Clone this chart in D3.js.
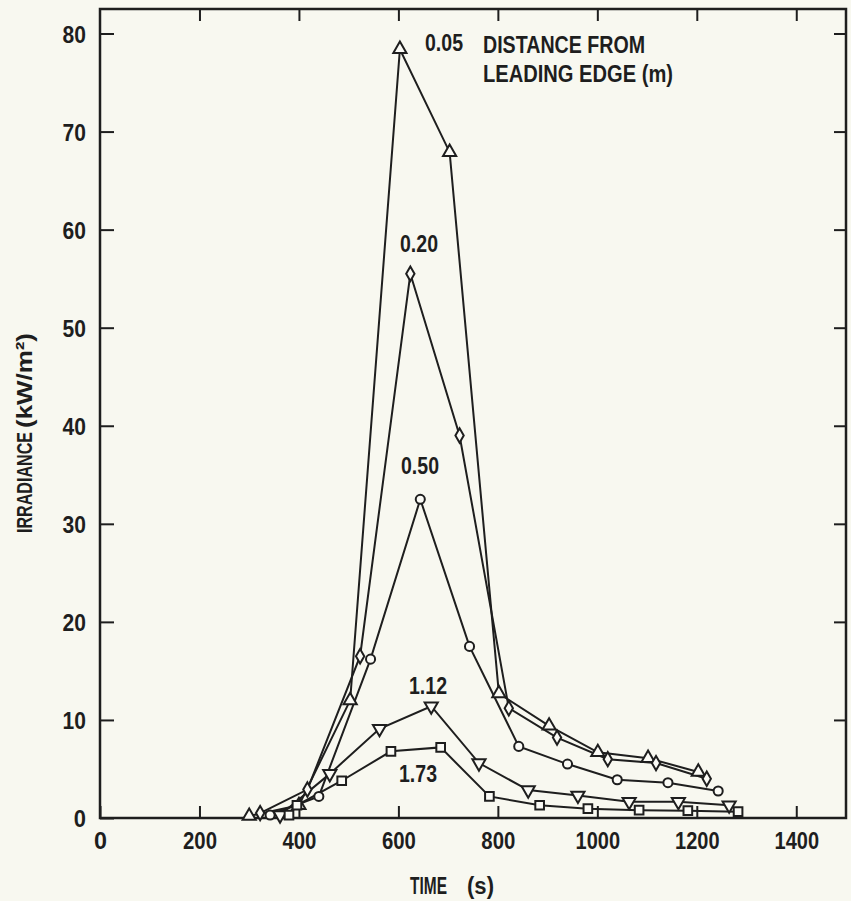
<!DOCTYPE html>
<html><head><meta charset="utf-8">
<script src="https://cdn.jsdelivr.net/npm/d3@7"></script>
<style>
html,body{margin:0;padding:0;background:#f8f8f0;}
svg{display:block;}
text{font-family:'Liberation Sans','Arimo',sans-serif;font-weight:bold;fill:#1e1e1e;}
</style></head>
<body>
<script>
// ---- data (time s, irradiance kW/m2) ----
const xTicks = [0,200,400,600,800,1000,1200,1400];
const yTicks = [0,10,20,30,40,50,60,70,80];
const s005 = [[300,0.2],[400,1.3],[503,12.0],[603,78.4],[703,67.9],[802,12.7],[903,9.4],[1001,6.7],[1102,6.1],[1203,4.7]];
const s020 = [[322,0.5],[417,2.9],[523,16.5],[624,55.5],[723,39.0],[822,11.2],[919,8.2],[1021,6.0],[1118,5.6],[1220,4.0]];
const s050 = [[342,0.3],[440,2.2],[544,16.2],[644,32.5],[743,17.5],[842,7.3],[940,5.5],[1040,3.9],[1142,3.6],[1243,2.75]];
const s112 = [[362,0.3],[462,4.5],[562,9.1],[666,11.4],[762,5.6],[861,2.85],[961,2.3],[1064,1.66],[1163,1.66],[1265,1.3]];
const s173 = [[380,0.3],[396,1.3],[486,3.8],[585,6.8],[685,7.2],[783,2.2],[884,1.3],[981,0.95],[1084,0.8],[1182,0.75],[1283,0.65]];
const seriesNames = ["0.05","0.20","0.50","1.12","1.73"];
const seriesData = [s005,s020,s050,s112,s173];
const seriesMarkers = ["triangle","diamond","circle","triangleDown","square"];

const W=851,H=901;
const svg=d3.select("body").append("svg").attr("width",W).attr("height",H);
const x=d3.scaleLinear().domain([0,1500]).range([100,846]);
const y=d3.scaleLinear().domain([0,82.5]).range([818,9]);
const ink="#1e1e1e";
const fit=(sel,w)=>sel.attr("textLength",w).attr("lengthAdjust","spacingAndGlyphs");

// axes with inward ticks
const gB=svg.append("g").attr("transform","translate(0,818)")
  .call(d3.axisBottom(x).tickValues(xTicks).tickSizeInner(-12).tickSizeOuter(0).tickPadding(14).tickFormat(d3.format("d")));
const gT=svg.append("g").attr("transform","translate(0,9)")
  .call(d3.axisTop(x).tickValues(xTicks.slice(1)).tickSizeInner(-12).tickSizeOuter(0).tickFormat(""));
const gL=svg.append("g").attr("transform","translate(100,0)")
  .call(d3.axisLeft(y).tickValues(yTicks).tickSizeInner(-14).tickSizeOuter(0).tickPadding(14).tickFormat(d3.format("d")));
const gR=svg.append("g").attr("transform","translate(846,0)")
  .call(d3.axisRight(y).tickValues(yTicks.slice(1)).tickSizeInner(-12).tickSizeOuter(0).tickFormat(""));
[gB,gT,gL,gR].forEach(g=>{
  g.select(".domain").remove();
  g.selectAll(".tick line").attr("stroke",ink).attr("stroke-width",2);
  g.selectAll(".tick text").style("font-size","24px").attr("fill",ink);
});
gB.selectAll(".tick text").attr("dy","0.72em").each(function(){
  const t=d3.select(this); fit(t, t.text().length*10.5+2.5); });
gL.selectAll(".tick text").attr("dy","0.36em").each(function(){
  const t=d3.select(this); fit(t, t.text().length*11.2+1); });

// frame
svg.append("rect").attr("x",100).attr("y",9).attr("width",746).attr("height",809)
  .attr("fill","none").attr("stroke",ink).attr("stroke-width",2.5);

// lines
const line=d3.line().x(d=>x(d[0])).y(d=>y(d[1]));
seriesData.forEach(s=>{
  svg.append("path").datum(s).attr("d",line).attr("fill","none")
    .attr("stroke",ink).attr("stroke-width",2);
});

// markers
const symMap={triangle:[d3.symbolTriangle,75,0],triangleDown:[d3.symbolTriangle,75,180],
  diamond:[d3.symbolDiamond,60,0],circle:[d3.symbolCircle,65,0],square:[d3.symbolSquare,75,0]};
seriesData.forEach((s,i)=>{
  const m=symMap[seriesMarkers[i]];
  svg.append("g").selectAll("path").data(s).join("path")
    .attr("d",d3.symbol().type(m[0]).size(m[1]))
    .attr("transform",d=>`translate(${x(d[0])},${y(d[1])}) rotate(${m[2]})`)
    .attr("fill","#fbfbf6").attr("stroke",ink).attr("stroke-width",2);
});

// series labels
const labelPos=[[444,51],[419,252],[420,474],[428,694],[418,782]];
seriesNames.forEach((n,i)=>{
  fit(svg.append("text").attr("x",labelPos[i][0]).attr("y",labelPos[i][1])
    .attr("text-anchor","middle").style("font-size","24px").text(n), 38);
});
fit(svg.append("text").attr("x",483).attr("y",53).style("font-size","24px").text("DISTANCE  FROM"),162);
fit(svg.append("text").attr("x",483).attr("y",82).style("font-size","24px").text("LEADING  EDGE  (m)"),190);

// axis titles
fit(svg.append("text").attr("x",410).attr("y",894).style("font-size","23px").text("TIME"),37);
fit(svg.append("text").attr("x",467).attr("y",894).style("font-size","23px").text("(s)"),27);
const yt=svg.append("g").attr("transform","translate(32,0) rotate(-90)");
fit(yt.append("text").attr("x",-533).attr("y",0).style("font-size","22px").text("IRRADIANCE"),101);
fit(yt.append("text").attr("x",-428).attr("y",0).style("font-size","22px").text("(kW/m²)"),95);
</script>
</body></html>
